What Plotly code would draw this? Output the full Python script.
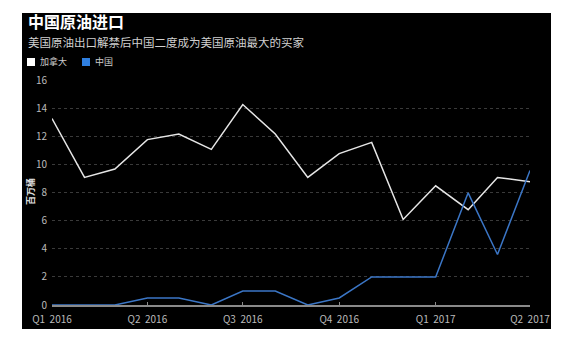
import plotly.graph_objects as go

months = ["2016-01-01","2016-02-01","2016-03-01","2016-04-01","2016-05-01","2016-06-01",
          "2016-07-01","2016-08-01","2016-09-01","2016-10-01","2016-11-01","2016-12-01",
          "2017-01-01","2017-02-01","2017-03-01","2017-04-01"]
canada = [13.3, 9.1, 9.7, 11.8, 12.2, 11.1, 14.3, 12.2, 9.1, 10.8, 11.6, 6.1, 8.5, 6.8, 9.1, 8.8]
china = [0, 0, 0, 0.5, 0.5, 0, 1.0, 1.0, 0, 0.5, 2.0, 2.0, 2.0, 8.0, 3.6, 9.6]
tick_vals = ["2016-01-01","2016-04-01","2016-07-01","2016-10-01","2017-01-01","2017-04-01"]
tick_text = ["Q1  2016","Q2  2016","Q3  2016","Q4  2016","Q1  2017","Q2  2017"]
y_ticks = [0, 2, 4, 6, 8, 10, 12, 14, 16]

FONT = "Noto Sans CJK SC"
W, H = 564, 341
L, R, T, B = 52, 530, 80, 305

def px(x):
    return (x - L) / (R - L)

def py(y):
    return (B - y) / (B - T)

fig = go.Figure()
fig.add_trace(go.Scatter(x=months, y=canada, mode="lines", name="加拿大",
                         line=dict(color="#e6e6e6", width=1.5)))
fig.add_trace(go.Scatter(x=months, y=china, mode="lines", name="中国",
                         line=dict(color="#3b76c6", width=1.5)))

fig.update_layout(
    width=W, height=H,
    margin=dict(l=L, r=W - R, t=T, b=H - B, pad=0),
    paper_bgcolor="white", plot_bgcolor="rgba(0,0,0,0)",
    showlegend=False,
    font=dict(family=FONT, color="#bbbbbb", size=10),
)
fig.update_xaxes(range=[months[0], months[-1]], tickvals=tick_vals, ticktext=tick_text,
                 showgrid=False, zeroline=False, showline=True, linecolor="#8a8a8a", linewidth=1.5,
                 ticks="inside", ticklen=3, tickcolor="#8a8a8a", ticklabelstandoff=4,
                 tickfont=dict(size=10, color="#bbbbbb"))
fig.update_yaxes(range=[0, 16.05], tickvals=y_ticks, showgrid=True, gridcolor="#3a3a3a",
                 griddash="dot", gridwidth=1, zeroline=False, showline=False,
                 ticks="", ticklabelstandoff=4, tickfont=dict(size=10, color="#bbbbbb"))

# black background panel
fig.add_shape(type="rect", xref="paper", yref="paper", layer="below",
              x0=px(22), x1=px(551), y0=py(329), y1=py(13),
              fillcolor="black", line=dict(width=0))

# titles
fig.add_annotation(text="<b>中国原油进口</b>", xref="paper", yref="paper",
                   x=px(26), y=py(21), xanchor="left", yanchor="middle", showarrow=False,
                   font=dict(size=16, color="white", family=FONT))
fig.add_annotation(text="美国原油出口解禁后中国二度成为美国原油最大的买家", xref="paper", yref="paper",
                   x=px(26), y=py(42), xanchor="left", yanchor="middle", showarrow=False,
                   font=dict(size=11.5, color="#d0d0d0", family=FONT))

# legend
for x0, color, label in [(27, "#ffffff", "加拿大"), (82, "#2f7fe0", "中国")]:
    fig.add_shape(type="rect", xref="paper", yref="paper",
                  x0=px(x0), x1=px(x0 + 8), y0=py(66), y1=py(58),
                  fillcolor=color, line=dict(width=0))
    fig.add_annotation(text=label, xref="paper", yref="paper",
                       x=px(x0 + 11), y=py(62), xanchor="left", yanchor="middle", showarrow=False,
                       font=dict(size=9, color="#cccccc", family=FONT))

# y-axis title
fig.add_annotation(text="<b>百万桶</b>", xref="paper", yref="paper",
                   x=px(30), y=py(192), xanchor="center", yanchor="middle", showarrow=False,
                   textangle=-90, font=dict(size=9, color="#dddddd", family=FONT))

fig.write_html("out.html")
